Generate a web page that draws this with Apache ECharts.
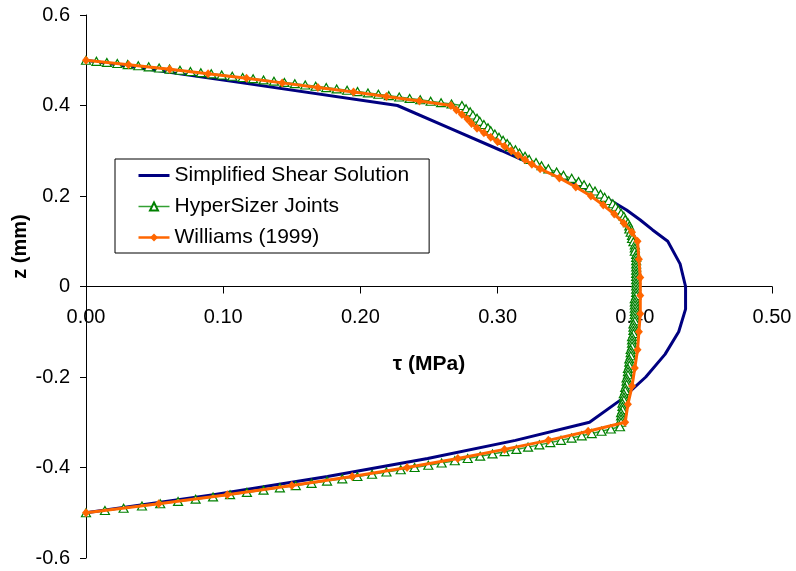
<!DOCTYPE html>
<html>
<head>
<meta charset="utf-8">
<script src="https://cdn.jsdelivr.net/npm/echarts@6/dist/echarts.min.js"></script>
<style>
html,body{margin:0;padding:0;background:#fff;}
#chart{width:796px;height:571px;}
</style>
</head>
<body>
<div id="chart"></div>
<script>
// ---- data ----
const seriesNames = ['Simplified Shear Solution', 'HyperSizer Joints', 'Williams (1999)'];

const shearZ = [0.5, 0.45, 0.4, 0.35, 0.3, 0.25, 0.2, 0.187, 0.169, 0.147, 0.125, 0.1, 0.05, 0, -0.05, -0.1, -0.15, -0.2, -0.25, -0.3, -0.34, -0.38, -0.42, -0.46, -0.5];
const shearTau = [0, 0.114, 0.227, 0.265, 0.303, 0.340, 0.376, 0.384, 0.394, 0.404, 0.413, 0.424, 0.433, 0.437, 0.437, 0.432, 0.422, 0.408, 0.390, 0.367, 0.313, 0.249, 0.176, 0.093, 0];

const hyperZ = [
  0.5000, 0.4976, 0.4952, 0.4928, 0.4904, 0.4879, 0.4854, 0.4829, 0.4804, 0.4778,
  0.4752, 0.4726, 0.4700, 0.4674, 0.4647, 0.4620, 0.4593, 0.4565, 0.4538, 0.4510,
  0.4482, 0.4453, 0.4425, 0.4396, 0.4367, 0.4337, 0.4308, 0.4278, 0.4248, 0.4218,
  0.4188, 0.4157, 0.4126, 0.4095, 0.4063, 0.4032, 0.4000,
  0.393, 0.386, 0.379, 0.372, 0.365, 0.358, 0.351, 0.344, 0.337, 0.330,
  0.323, 0.316, 0.309, 0.302, 0.295, 0.288, 0.281, 0.274, 0.267, 0.260,
  0.253, 0.246, 0.239, 0.232, 0.225, 0.218, 0.211, 0.204, 0.197, 0.190,
  0.183, 0.176, 0.169, 0.162, 0.155, 0.148, 0.141, 0.134, 0.127, 0.120,
  0.113, 0.106, 0.099, 0.092, 0.085, 0.078, 0.071, 0.064, 0.057, 0.050,
  0.043, 0.036, 0.029, 0.022, 0.015, 0.008, 0.001, -0.006, -0.013, -0.020,
  -0.027, -0.034, -0.041, -0.048, -0.055, -0.062, -0.069, -0.076, -0.083, -0.090,
  -0.097, -0.104, -0.111, -0.118, -0.125, -0.132, -0.139, -0.146, -0.153, -0.160,
  -0.167, -0.174, -0.181, -0.188, -0.195, -0.202, -0.209, -0.216, -0.223, -0.230,
  -0.237, -0.244, -0.251, -0.258, -0.265, -0.272, -0.279, -0.286, -0.293, -0.300,
  -0.310, -0.315, -0.320, -0.325, -0.330, -0.335, -0.340, -0.345, -0.350, -0.355,
  -0.360, -0.365, -0.370, -0.375, -0.380, -0.385, -0.390, -0.395, -0.400, -0.405,
  -0.410, -0.415, -0.420, -0.425, -0.430, -0.435, -0.440, -0.445, -0.450, -0.455,
  -0.460, -0.465, -0.470, -0.475, -0.480, -0.485, -0.490, -0.495, -0.500
];
const hyperTau = [
  0, 0.0076, 0.0152, 0.0228, 0.0304, 0.0381, 0.0457, 0.0533, 0.0609, 0.0685,
  0.0761, 0.0837, 0.0913, 0.0989, 0.1066, 0.1142, 0.1218, 0.1294, 0.1370, 0.1446,
  0.1522, 0.1598, 0.1674, 0.1751, 0.1827, 0.1903, 0.1979, 0.2055, 0.2131, 0.2207,
  0.2283, 0.2359, 0.2436, 0.2512, 0.2588, 0.2664, 0.2740,
  0.277, 0.280, 0.282, 0.285, 0.287, 0.290, 0.293, 0.295, 0.298, 0.301,
  0.304, 0.307, 0.309, 0.313, 0.316, 0.320, 0.323, 0.328, 0.332, 0.337,
  0.343, 0.348, 0.354, 0.359, 0.363, 0.367, 0.371, 0.375, 0.378, 0.381,
  0.384, 0.386, 0.388, 0.390, 0.392, 0.393, 0.395, 0.396, 0.396, 0.397,
  0.398, 0.398, 0.399, 0.400, 0.400, 0.400, 0.401, 0.401, 0.401, 0.401,
  0.401, 0.401, 0.401, 0.401, 0.401, 0.401, 0.401, 0.401, 0.401, 0.401,
  0.400, 0.400, 0.400, 0.400, 0.400, 0.400, 0.400, 0.400, 0.399, 0.399,
  0.399, 0.399, 0.398, 0.398, 0.398, 0.398, 0.397, 0.397, 0.397, 0.396,
  0.396, 0.396, 0.395, 0.395, 0.395, 0.394, 0.394, 0.394, 0.393, 0.393,
  0.392, 0.392, 0.392, 0.391, 0.391, 0.391, 0.390, 0.390, 0.390, 0.390,
  0.3892, 0.3825, 0.3757, 0.3686, 0.3613, 0.3539, 0.3462, 0.3384, 0.3304, 0.3222,
  0.3137, 0.3051, 0.2963, 0.2873, 0.2782, 0.2688, 0.2592, 0.2495, 0.2395, 0.2294,
  0.2190, 0.2085, 0.1978, 0.1868, 0.1757, 0.1644, 0.1529, 0.1413, 0.1294, 0.1173,
  0.1050, 0.0926, 0.0799, 0.0671, 0.0541, 0.0408, 0.0274, 0.0138, 0
];

const williamsZ = [
  0.50, 0.49, 0.48, 0.47, 0.46, 0.45, 0.44, 0.43, 0.42, 0.41, 0.40,
  0.39, 0.38, 0.37, 0.36, 0.35, 0.34, 0.33, 0.32, 0.31, 0.30, 0.29, 0.28, 0.27, 0.26,
  0.24, 0.22, 0.20, 0.18, 0.16, 0.14, 0.12, 0.10,
  0.06, 0.02, -0.02, -0.06, -0.10, -0.14, -0.18, -0.22, -0.26, -0.30,
  -0.32, -0.34, -0.36, -0.38, -0.40, -0.42, -0.44, -0.46, -0.48, -0.50
];
const williamsTau = [
  0, 0.031, 0.061, 0.089, 0.117, 0.143, 0.169, 0.195, 0.219, 0.243, 0.266,
  0.270, 0.274, 0.278, 0.281, 0.285, 0.290, 0.295, 0.300, 0.305, 0.310, 0.315, 0.320, 0.325, 0.331,
  0.345, 0.357, 0.368, 0.377, 0.385, 0.392, 0.398, 0.402,
  0.403, 0.404, 0.404, 0.404, 0.403, 0.402, 0.400, 0.398, 0.395, 0.393,
  0.366, 0.337, 0.305, 0.271, 0.234, 0.194, 0.150, 0.103, 0.053, 0
];

const xTicks = ['0.00', '0.10', '0.20', '0.30', '0.40', '0.50'];
const yTicks = ['-0.6', '-0.4', '-0.2', '0', '0.2', '0.4', '0.6'];

// ---- chart ----
const pairs = (xs, ys) => xs.map((x, i) => [x, ys[i]]);
const FONT = '"Liberation Sans", Arial, Helvetica, sans-serif';

const chart = echarts.init(document.getElementById('chart'), null, {renderer: 'canvas'});
chart.setOption({
  animation: false,
  backgroundColor: '#ffffff',
  textStyle: {fontFamily: FONT},
  grid: {left: 86, top: 15, width: 686, height: 543, containLabel: false, outerBoundsMode: 'none'},
  legend: {
    orient: 'vertical',
    left: 115, top: 159,
    padding: [6, 20, 5, 22],
    itemGap: 10,
    itemWidth: 31, itemHeight: 10,
    borderColor: '#000', borderWidth: 1, backgroundColor: '#fff',
    textStyle: {fontSize: 21, color: '#000', fontFamily: FONT},
    data: [
      {name: seriesNames[0], itemStyle: {opacity: 0}, lineStyle: {width: 3}},
      {name: seriesNames[1], lineStyle: {width: 1.5}},
      {name: seriesNames[2], lineStyle: {width: 2.5}}
    ]
  },
  xAxis: {
    type: 'value', min: 0, max: 0.5, interval: 0.1,
    position: 'bottom', offset: -271.5,
    name: 'τ (MPa)', nameLocation: 'middle', nameGap: 67, nameMoveOverlap: false,
    nameTextStyle: {fontSize: 21, fontWeight: 'bold', color: '#000', fontFamily: FONT},
    axisLine: {onZero: false, lineStyle: {color: '#000', width: 1}},
    axisTick: {show: true, inside: false, length: 7, lineStyle: {color: '#000'}},
    axisLabel: {
      margin: 21, fontSize: 20, color: '#000', fontFamily: FONT,
      formatter: v => xTicks[Math.round(v * 10)]
    },
    splitLine: {show: false}
  },
  yAxis: {
    type: 'value', min: -0.6, max: 0.6, interval: 0.2,
    name: 'z (mm)', nameLocation: 'middle', nameGap: 56, nameRotate: 90, nameMoveOverlap: false,
    nameTextStyle: {fontSize: 20, fontWeight: 'bold', color: '#000', fontFamily: FONT, padding: [0, 0, 0, 80]},
    axisLine: {onZero: false, lineStyle: {color: '#000', width: 1}},
    axisTick: {show: true, inside: false, length: 6, lineStyle: {color: '#000'}},
    axisLabel: {
      margin: 16, fontSize: 20, color: '#000', fontFamily: FONT,
      formatter: v => yTicks[Math.round(v * 5) + 3]
    },
    splitLine: {show: false}
  },
  series: [
    {
      name: seriesNames[0], type: 'line', data: pairs(shearTau, shearZ),
      symbol: 'none', smooth: false,
      lineStyle: {color: '#000080', width: 3},
      itemStyle: {color: '#000080'},
      z: 2
    },
    {
      name: seriesNames[1], type: 'line', data: pairs(hyperTau, hyperZ),
      symbol: 'triangle', symbolSize: [9, 8], showAllSymbol: true,
      lineStyle: {color: '#33a033', width: 1.5},
      itemStyle: {color: '#ffffff', borderColor: '#008000', borderWidth: 1.2},
      z: 3
    },
    {
      name: seriesNames[2], type: 'line', data: pairs(williamsTau, williamsZ),
      symbol: 'diamond', symbolSize: [8, 9], showAllSymbol: true,
      lineStyle: {color: '#ff6600', width: 3},
      itemStyle: {color: '#ff6600'},
      z: 4
    }
  ]
});
</script>
</body>
</html>
